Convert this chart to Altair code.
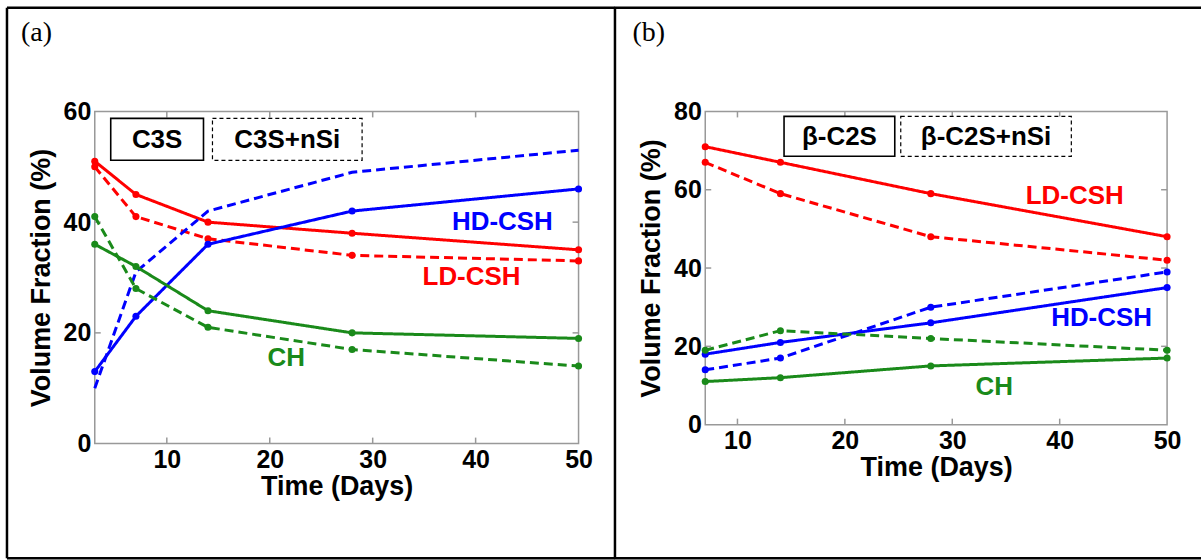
import altair as alt
import pandas as pd

# ---------------- data ----------------
a_days = [3, 7, 14, 28, 50]
a_ld_c3s = [51, 45, 40, 38, 35]
a_ld_nsi = [50, 41, 37, 34, 33]
a_hd_c3s = [13, 23, 36, 42, 46]
a_hd_nsi = [10, 31, 42, 49, 53]
a_ch_c3s = [36, 32, 24, 20, 19]
a_ch_nsi = [41, 28, 21, 17, 14]

b_days = [7, 14, 28, 50]
b_ld_c2s = [71, 67, 59, 48]
b_ld_nsi = [67, 59, 48, 42]
b_hd_c2s = [18, 21, 26, 35]
b_hd_nsi = [14, 17, 30, 39]
b_ch_c2s = [11, 12, 15, 17]
b_ch_nsi = [19, 24, 22, 19]

phases = ["LD", "HD", "CH"]
phase_names = ["LD-CSH", "HD-CSH", "CH"]
a_label_days = [39.6, 42.6, 21.6]
a_label_vals = [30.1, 40.0, 15.5]
b_label_days = [41.4, 43.9, 33.9]
b_label_vals = [58.3, 27.2, 9.6]

a_legend = ["C3S", "C3S+nSi"]
b_legend = ["\u03b2-C2S", "\u03b2-C2S+nSi"]

x_ticks = [10, 20, 30, 40, 50]
x_inner_ticks = [10, 20, 30, 40]
a_y_ticks = [0, 20, 40, 60]
b_y_ticks = [0, 20, 40, 60, 80]

RED, BLUE, GREEN = "#ff0000", "#0000ff", "#1a8a1a"
FONT = "Liberation Sans"


def long_df(days, series):
    rows = []
    for phase, mix, vals, mk in series:
        for d, v in zip(days, vals):
            rows.append(dict(day=d, value=v, phase=phase, mix=mix,
                             series=phase + mix, marker=mk))
    return pd.DataFrame(rows)


a_df = long_df(a_days, [
    ("LD", "plain", a_ld_c3s, True), ("LD", "nSi", a_ld_nsi, True),
    ("HD", "plain", a_hd_c3s, True), ("HD", "nSi", a_hd_nsi, False),
    ("CH", "plain", a_ch_c3s, True), ("CH", "nSi", a_ch_nsi, True),
])
b_df = long_df(b_days, [
    ("LD", "plain", b_ld_c2s, True), ("LD", "nSi", b_ld_nsi, True),
    ("HD", "plain", b_hd_c2s, True), ("HD", "nSi", b_hd_nsi, True),
    ("CH", "plain", b_ch_c2s, True), ("CH", "nSi", b_ch_nsi, True),
])


def panel(df, xdom, ydom, yticks, W, H, lab_days, lab_vals, legend, boxes,
          tag, border):
    xs = alt.Scale(domain=xdom, nice=False, zero=False)
    ys = alt.Scale(domain=ydom, nice=False, zero=False)
    X = alt.X("day:Q", scale=xs,
              axis=alt.Axis(values=x_ticks, title="Time (Days)"))
    Y = alt.Y("value:Q", scale=ys,
              axis=alt.Axis(values=yticks, title="Volume Fraction (%)"))
    color = alt.Color("phase:N",
                      scale=alt.Scale(domain=phases, range=[RED, BLUE, GREEN]),
                      legend=None)
    dash = alt.StrokeDash("mix:N",
                          scale=alt.Scale(domain=["plain", "nSi"],
                                          range=[[1, 0], [9, 5]]),
                          legend=None)

    lines = alt.Chart(df).mark_line(strokeWidth=3).encode(
        x=X, y=Y, color=color, strokeDash=dash, detail="series:N")
    pts = alt.Chart(df).transform_filter("datum.marker").mark_circle(
        size=50, opacity=1).encode(x=X, y=Y, color=color)

    lab_df = pd.DataFrame(dict(day=lab_days, value=lab_vals,
                               phase=phases, text=phase_names))
    labels = alt.Chart(lab_df).mark_text(
        font=FONT, fontSize=26, fontWeight="bold").encode(
        x=X, y=Y, text="text:N", color=color)

    xt = pd.DataFrame(dict(day=x_inner_ticks))
    yt = pd.DataFrame(dict(value=[v for v in yticks[1:-1]]))
    tick_style = dict(color="#999999", strokeWidth=1.5)
    ticks = [
        alt.Chart(xt).mark_rule(**tick_style).encode(
            x=X, y=alt.value(H), y2=alt.value(H - 6)),
        alt.Chart(xt).mark_rule(**tick_style).encode(
            x=X, y=alt.value(0), y2=alt.value(6)),
        alt.Chart(yt).mark_rule(**tick_style).encode(
            y=Y, x=alt.value(0), x2=alt.value(6)),
        alt.Chart(yt).mark_rule(**tick_style).encode(
            y=Y, x=alt.value(W), x2=alt.value(W - 6)),
    ]

    one = pd.DataFrame(dict(k=[0]))
    legend_layers = []
    for name, (x1, x2, y1, y2), dashed in zip(legend, boxes, [False, True]):
        rect_kw = dict(fill="white", stroke="black",
                       strokeWidth=1.2 if dashed else 1.6)
        if dashed:
            rect_kw["strokeDash"] = [4, 3]
        legend_layers.append(alt.Chart(one).mark_rect(**rect_kw).encode(
            x=alt.value(x1), x2=alt.value(x2),
            y=alt.value(y1), y2=alt.value(y2)))
        legend_layers.append(alt.Chart(one).mark_text(
            font=FONT, fontSize=26, fontWeight="bold", color="black").encode(
            x=alt.value((x1 + x2) / 2), y=alt.value((y1 + y2) / 2 + 1),
            text=alt.value(name)))

    tag_layer = alt.Chart(one).mark_text(
        font="Liberation Serif", fontSize=28, align="left",
        baseline="alphabetic", color="black").encode(
        x=alt.value(tag[1]), y=alt.value(tag[2]), text=alt.value(tag[0]))

    border_layers = []
    for (bx1, bx2, by1, by2) in border:
        border_layers.append(alt.Chart(one).mark_rule(
            color="black", strokeWidth=2.5).encode(
            x=alt.value(bx1), x2=alt.value(bx2),
            y=alt.value(by1), y2=alt.value(by2)))

    return alt.layer(*border_layers, tag_layer, *ticks, lines, pts, labels,
                     *legend_layers).properties(width=W, height=H)


WA, HA = 485, 333
WB, HB = 463, 314

pa = panel(a_df, [3, 50], [0, 60], a_y_ticks, WA, HA,
           a_label_days, a_label_vals, a_legend,
           [(16, 109, 7, 49), (118, 268, 7, 49)],
           ("(a)", -74, -71),
           [(-88, -88, -104, 448),          # left
            (-88, 521.5, -104, -104),       # top
            (-88, 521.5, 448, 448),         # bottom
            (521.5, 521.5, -104, 448)])     # divider

pb = panel(b_df, [7, 50], [0, 80], b_y_ticks, WB, HB,
           b_label_days, b_label_vals, b_legend,
           [(79, 190, 5, 45), (196, 367, 5, 45)],
           ("(b)", -73, -71),
           [(-91, 497, -104, -104),
            (-91, 497, 448, 448)])

chart = alt.hconcat(pa, pb, spacing=-5).properties(
    padding={"left": 5, "top": 5, "right": 0, "bottom": 0}
).configure_view(stroke="#999999", strokeWidth=1.5).configure_axis(
    labelFont=FONT, labelFontSize=25, labelFontWeight="bold",
    labelColor="black", labelPadding=4, labelFlush=False,
    labelOverlap=False, titleFont=FONT, titleFontSize=27,
    titleFontWeight="bold", titleColor="black", domain=False,
    ticks=False, grid=False
).configure_axisX(titlePadding=1).configure_axisY(titlePadding=8)

chart.save("out.html", embed_options={"renderer": "svg", "actions": False})
